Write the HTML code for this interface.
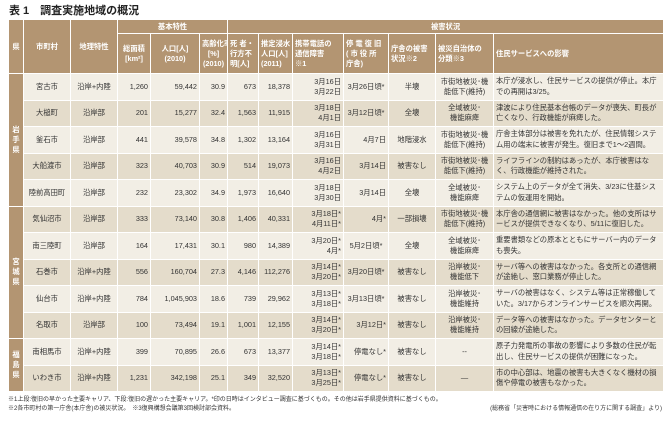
<!DOCTYPE html>
<html><head><meta charset="utf-8"><style>
body{margin:0;width:670px;height:422px;background:#fff;font-family:"Liberation Sans","Noto Sans CJK JP",sans-serif;color:#333;overflow:hidden;position:relative}
.t{position:absolute;left:9px;top:2px;font-size:11px;font-weight:bold;color:#222}
table{position:absolute;left:8px;top:19px;border-collapse:collapse;table-layout:fixed;width:655px}
td{border:1.5px solid #fff;font-size:7.3px;padding:0 2px;text-align:center;line-height:10px;overflow:hidden;white-space:nowrap;box-sizing:border-box}
.h td{background:#b39572;color:#fff;font-weight:bold}
tr.r{height:26.5px}
tr.a td{background:#f2eee5}
tr.b td{background:#e4dccb}
td.p{background:#b39572 !important;color:#fff;font-weight:bold;line-height:10px}
td.n{text-align:right}
td.s{text-align:left;white-space:normal;line-height:10.5px}
.f{position:absolute;font-size:6px;color:#333;white-space:nowrap}
</style></head><body>
<div class="t">表 1　調査実施地域の概況</div>
<table>
<colgroup><col style="width:15px"><col style="width:47px"><col style="width:47px"><col style="width:33px"><col style="width:49px"><col style="width:28px"><col style="width:31px"><col style="width:34px"><col style="width:51px"><col style="width:45px"><col style="width:47px"><col style="width:58px"><col style="width:170px"></colgroup>
<tr class="h" style="height:14px"><td rowspan="2">県</td><td rowspan="2">市町村</td><td rowspan="2">地理特性</td><td colspan="3">基本特性</td><td colspan="7">被害状況</td></tr>
<tr class="h" style="height:40px"><td>総面積<br>[km²]</td><td>人口[人]<br>(2010)</td><td>高齢化率<br>[%]<br>(2010)</td><td style="text-align:left">死 者・<br>行方不<br>明[人]</td><td style="text-align:left">推定浸水<br>人口[人]<br>(2011)</td><td style="text-align:left">携帯電話の<br>通信障害<br>※1</td><td style="text-align:left">停 電 復 旧<br>( 市 役 所<br>庁舎)</td><td style="text-align:left">庁舎の被害<br>状況※2</td><td style="text-align:left">被災自治体の<br>分類※3</td><td style="text-align:left">住民サービスへの影響</td></tr>
<tr class="r a"><td class="p" rowspan="5">岩<br>手<br>県</td><td>宮古市</td><td>沿岸+内陸</td><td class="n">1,260</td><td class="n">59,442</td><td class="n">30.9</td><td class="n">673</td><td class="n">18,378</td><td class="n">3月16日<br>3月22日</td><td>3月26日頃*</td><td>半壊</td><td>市街地被災･機<br>能低下(維持)</td><td class="s">本庁が浸水し、住民サービスの提供が停止。本庁での再開は3/25。</td></tr>
<tr class="r b"><td>大槌町</td><td>沿岸部</td><td class="n">201</td><td class="n">15,277</td><td class="n">32.4</td><td class="n">1,563</td><td class="n">11,915</td><td class="n">3月18日<br>4月1日</td><td>3月12日頃*</td><td>全壊</td><td>全域被災･<br>機能麻痺</td><td class="s">津波により住民基本台帳のデータが喪失、町長が亡くなり、行政機能が麻痺した。</td></tr>
<tr class="r a"><td>釜石市</td><td>沿岸部</td><td class="n">441</td><td class="n">39,578</td><td class="n">34.8</td><td class="n">1,302</td><td class="n">13,164</td><td class="n">3月16日<br>3月31日</td><td class="n">4月7日</td><td>地階浸水</td><td>市街地被災･機<br>能低下(維持)</td><td class="s">庁舎主体部分は被害を免れたが、住民情報システム用の端末に被害が発生。復旧まで1～2週間。</td></tr>
<tr class="r b"><td>大船渡市</td><td>沿岸部</td><td class="n">323</td><td class="n">40,703</td><td class="n">30.9</td><td class="n">514</td><td class="n">19,073</td><td class="n">3月16日<br>4月2日</td><td class="n">3月14日</td><td>被害なし</td><td>市街地被災･機<br>能低下(維持)</td><td class="s">ライフラインの制約はあったが、本庁被害はなく、行政機能が維持された。</td></tr>
<tr class="r a"><td>陸前高田町</td><td>沿岸部</td><td class="n">232</td><td class="n">23,302</td><td class="n">34.9</td><td class="n">1,973</td><td class="n">16,640</td><td class="n">3月18日<br>3月30日</td><td class="n">3月14日</td><td>全壊</td><td>全域被災･<br>機能麻痺</td><td class="s">システム上のデータが全て消失、3/23に住基システムの仮運用を開始。</td></tr>
<tr class="r b"><td class="p" rowspan="5">宮<br>城<br>県</td><td>気仙沼市</td><td>沿岸部</td><td class="n">333</td><td class="n">73,140</td><td class="n">30.8</td><td class="n">1,406</td><td class="n">40,331</td><td class="n">3月18日*<br>4月11日*</td><td class="n">4月*</td><td>一部損壊</td><td>市街地被災･機<br>能低下(維持)</td><td class="s">本庁舎の通信網に被害はなかった。他の支所はサービスが提供できなくなり、5/11に復旧した。</td></tr>
<tr class="r a"><td>南三陸町</td><td>沿岸部</td><td class="n">164</td><td class="n">17,431</td><td class="n">30.1</td><td class="n">980</td><td class="n">14,389</td><td class="n">3月20日*<br>4月*</td><td>5月2日頃*</td><td>全壊</td><td>全域被災･<br>機能麻痺</td><td class="s">重要書類などの原本とともにサーバー内のデータも喪失。</td></tr>
<tr class="r b"><td>石巻市</td><td>沿岸+内陸</td><td class="n">556</td><td class="n">160,704</td><td class="n">27.3</td><td class="n">4,146</td><td class="n">112,276</td><td class="n">3月14日*<br>3月20日*</td><td>3月20日頃*</td><td>被害なし</td><td>沿岸被災･<br>機能低下</td><td class="s">サーバ等への被害はなかった。各支所との通信網が途絶し、窓口業務が停止した。</td></tr>
<tr class="r a"><td>仙台市</td><td>沿岸+内陸</td><td class="n">784</td><td class="n">1,045,903</td><td class="n">18.6</td><td class="n">739</td><td class="n">29,962</td><td class="n">3月13日*<br>3月18日*</td><td>3月13日頃*</td><td>被害なし</td><td>沿岸被災･<br>機能維持</td><td class="s">サーバの被害はなく、システム等は正常稼働していた。3/17からオンラインサービスを順次再開。</td></tr>
<tr class="r b"><td>名取市</td><td>沿岸部</td><td class="n">100</td><td class="n">73,494</td><td class="n">19.1</td><td class="n">1,001</td><td class="n">12,155</td><td class="n">3月14日*<br>3月20日*</td><td class="n">3月12日*</td><td>被害なし</td><td>沿岸被災･<br>機能維持</td><td class="s">データ等への被害はなかった。データセンターとの回線が途絶した。</td></tr>
<tr class="r a"><td class="p" rowspan="2">福<br>島<br>県</td><td>南相馬市</td><td>沿岸+内陸</td><td class="n">399</td><td class="n">70,895</td><td class="n">26.6</td><td class="n">673</td><td class="n">13,377</td><td class="n">3月14日*<br>3月18日*</td><td class="n">停電なし*</td><td>被害なし</td><td>--</td><td class="s">原子力発電所の事故の影響により多数の住民が転出し、住民サービスの提供が困難になった。</td></tr>
<tr class="r b"><td>いわき市</td><td>沿岸+内陸</td><td class="n">1,231</td><td class="n">342,198</td><td class="n">25.1</td><td class="n">349</td><td class="n">32,520</td><td class="n">3月13日*<br>3月25日*</td><td class="n">停電なし*</td><td>被害なし</td><td>—</td><td class="s">市の中心部は、地震の被害も大きくなく機材の損傷や停電の被害もなかった。</td></tr>
</table>
<div class="f" style="left:8px;top:394px">※1上段:復旧の早かった主要キャリア、下段:復旧の遅かった主要キャリア。*印の日時はインタビュー調査に基づくもの。その他は岩手県提供資料に基づくもの。</div>
<div class="f" style="left:8px;top:403px">※2各市町村の第一庁舎(本庁舎)の被災状況。　※3復興構想会議第3回検討部会資料。</div>
<div class="f" style="right:8px;top:403px">(総務省「災害時における情報通信の在り方に関する調査」より)</div>
</body></html>
